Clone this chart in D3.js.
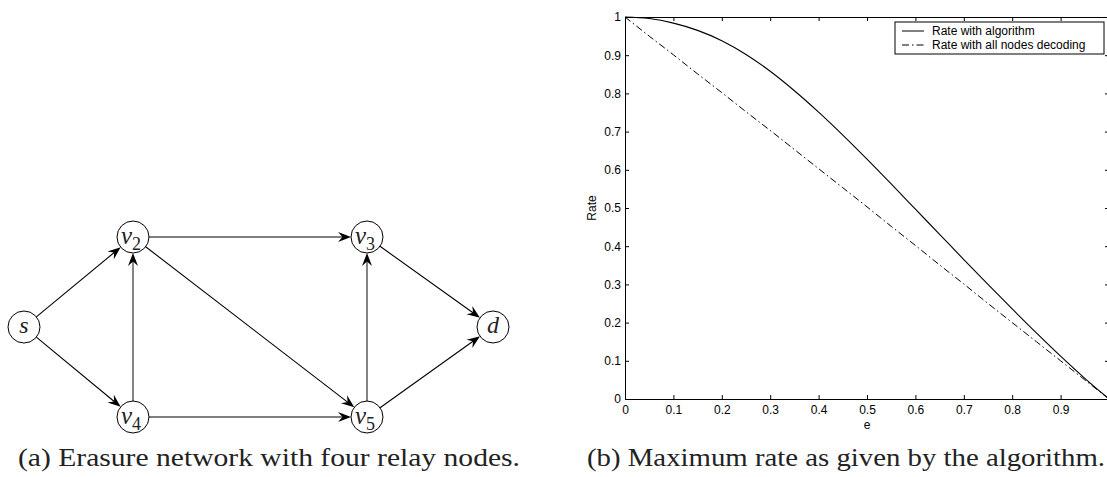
<!DOCTYPE html>
<html>
<head>
<meta charset="utf-8">
<script src="https://cdn.jsdelivr.net/npm/d3@7"></script>
<style>
body { margin: 0; background: #fff; }
svg { display: block; }
.tick text { font-family: "Liberation Sans", Arial, sans-serif; font-size: 12px; fill: #000; }
.axis path, .axis line { stroke: #000; }
</style>
</head>
<body>
<div id="fig"></div>
<script>
// network of panel (a)
var nodeNames = ["s", "v2", "v3", "v4", "v5", "d"];
var nodeCols = [0, 1, 2, 1, 2, 3];
var nodeRows = [1, 0, 0, 2, 2, 1];
var edgeList = [["s","v2"],["s","v4"],["v4","v2"],["v2","v3"],["v2","v5"],["v4","v5"],["v5","v3"],["v3","d"],["v5","d"]];

// curves of panel (b)
var eValues = [0,0.05,0.1,0.15,0.2,0.25,0.3,0.35,0.4,0.45,0.5,0.55,0.6,0.65,0.7,0.75,0.8,0.85,0.9,0.95,1];
var rateAlgo = [1.000,0.996,0.984,0.965,0.938,0.902,0.858,0.807,0.751,0.691,0.628,0.563,0.497,0.431,0.365,0.300,0.236,0.173,0.112,0.054,0.000];
var rateAll = [1.000,0.950,0.901,0.851,0.802,0.752,0.703,0.653,0.603,0.553,0.503,0.452,0.402,0.351,0.301,0.250,0.200,0.150,0.100,0.050,0.000];
var xTicks = [0,0.1,0.2,0.3,0.4,0.5,0.6,0.7,0.8,0.9,1];
var yTicks = [0,0.1,0.2,0.3,0.4,0.5,0.6,0.7,0.8,0.9,1];
var seriesNames = ["Rate with algorithm", "Rate with all nodes decoding"];

var svg = d3.select("#fig").append("svg")
    .attr("width", 1107)
    .attr("height", 477);

// ---------- panel (a) ----------
var colX = d3.scaleOrdinal().domain([0,1,2,3]).range([24, 133, 367, 493]);
var rowY = d3.scalePoint().domain([0,1,2]).range([237, 417]);
var r = 16;

var nodes = {};
nodeNames.forEach(function(n, i) {
  nodes[n] = {name: n, x: colX(nodeCols[i]), y: rowY(nodeRows[i])};
});

var net = svg.append("g");

edgeList.forEach(function(e) {
  var a = nodes[e[0]], b = nodes[e[1]];
  var dx = b.x - a.x, dy = b.y - a.y, len = Math.sqrt(dx*dx + dy*dy);
  var ux = dx / len, uy = dy / len;
  var x1 = a.x + ux * r, y1 = a.y + uy * r;
  var x2 = b.x - ux * r, y2 = b.y - uy * r;
  var vertical = Math.abs(dx) < 1;
  var col = vertical ? "#666" : "#000";
  net.append("line")
    .attr("x1", x1).attr("y1", y1)
    .attr("x2", x2 - ux * 6).attr("y2", y2 - uy * 6)
    .attr("stroke", col)
    .attr("stroke-width", vertical ? 1.6 : 1.1);
  // stealth arrow head
  var L = 13, W = 5, back = 8.5;
  var px = -uy, py = ux;
  var pts = [
    [x2, y2],
    [x2 - ux*L + px*W, y2 - uy*L + py*W],
    [x2 - ux*back, y2 - uy*back],
    [x2 - ux*L - px*W, y2 - uy*L - py*W]
  ];
  net.append("path")
    .attr("d", "M" + pts.map(function(p){return p.join(",");}).join("L") + "Z")
    .attr("fill", "#000");
});

var ng = net.selectAll("g.node")
  .data(nodeNames.map(function(n){return nodes[n];}))
  .enter().append("g").attr("class", "node");

ng.append("circle")
  .attr("cx", function(d){return d.x;})
  .attr("cy", function(d){return d.y;})
  .attr("r", r)
  .attr("fill", "#fff")
  .attr("stroke", "#000")
  .attr("stroke-width", 1);

ng.each(function(d) {
  var t = d3.select(this).append("text")
    .attr("font-family", "'Liberation Serif', 'Times New Roman', serif")
    .attr("fill", "#222");
  if (d.name.length > 1) {
    t.attr("x", d.x - 12).attr("y", d.y + 7);
    t.append("tspan").attr("font-style", "italic").attr("font-size", 25).text(d.name[0]);
    t.append("tspan").attr("font-size", 18).attr("dy", 6).text(d.name.slice(1));
  } else {
    t.attr("x", d.x).attr("y", d.y + 6)
      .attr("text-anchor", "middle")
      .attr("font-style", "italic")
      .attr("font-size", 24)
      .text(d.name);
  }
});

// ---------- panel (b) ----------
var x = d3.scaleLinear().domain([0, 1]).range([625, 1109]);
var y = d3.scaleLinear().domain([0, 1]).range([399, 17]);
var fmt = d3.format("~g");
// the label at e = 1 falls outside the page, as in the original
var xFmt = function(d) { return x(d) > 1100 ? "" : fmt(d); };

svg.append("g").attr("class", "axis")
  .attr("transform", "translate(0,399)")
  .call(d3.axisBottom(x).tickValues(xTicks).tickFormat(xFmt).tickSizeInner(-4).tickSizeOuter(0).tickPadding(6));
svg.append("g").attr("class", "axis")
  .attr("transform", "translate(625,0)")
  .call(d3.axisLeft(y).tickValues(yTicks).tickFormat(fmt).tickSizeInner(-4).tickSizeOuter(0).tickPadding(4));
svg.append("g").attr("class", "axis")
  .attr("transform", "translate(0,17)")
  .call(d3.axisTop(x).tickValues(xTicks).tickFormat("").tickSizeInner(-4).tickSizeOuter(0));
svg.append("g").attr("class", "axis")
  .attr("transform", "translate(1109,0)")
  .call(d3.axisRight(y).tickValues(yTicks).tickFormat("").tickSizeInner(-4).tickSizeOuter(0));

var line = d3.line()
  .x(function(d){return x(d[0]);})
  .y(function(d){return y(d[1]);})
  .curve(d3.curveMonotoneX);

svg.append("path")
  .datum(d3.zip(eValues, rateAlgo))
  .attr("d", line)
  .attr("fill", "none")
  .attr("stroke", "#000")
  .attr("stroke-width", 1.1);

svg.append("path")
  .datum(d3.zip(eValues, rateAll))
  .attr("d", line)
  .attr("fill", "none")
  .attr("stroke", "#000")
  .attr("stroke-width", 1)
  .attr("stroke-dasharray", "7,3,1.5,3");

// axis titles
svg.append("text")
  .attr("x", x(0.5)).attr("y", 429)
  .attr("text-anchor", "middle")
  .attr("font-family", "'Liberation Sans', Arial, sans-serif")
  .attr("font-size", 12)
  .text("e");
svg.append("text")
  .attr("transform", "translate(596," + y(0.5) + ") rotate(-90)")
  .attr("text-anchor", "middle")
  .attr("font-family", "'Liberation Sans', Arial, sans-serif")
  .attr("font-size", 12)
  .text("Rate");

// legend
var leg = svg.append("g");
leg.append("rect")
  .attr("x", 895).attr("y", 22).attr("width", 209).attr("height", 32)
  .attr("fill", "#fff").attr("stroke", "#000").attr("stroke-width", 1);
seriesNames.forEach(function(name, i) {
  var ly = 31 + i * 14;
  leg.append("line")
    .attr("x1", 902).attr("x2", 924).attr("y1", ly).attr("y2", ly)
    .attr("stroke", "#000").attr("stroke-width", 1)
    .attr("stroke-dasharray", i === 0 ? null : "7,3,1.5,3");
  leg.append("text")
    .attr("x", 932).attr("y", ly + 4)
    .attr("font-family", "'Liberation Sans', Arial, sans-serif")
    .attr("font-size", 12)
    .text(name);
});

// captions
var captions = [
  {t: "(a) Erasure network with four relay nodes.", x: 18, w: 502},
  {t: "(b) Maximum rate as given by the algorithm.", x: 587, w: 518}
];
captions.forEach(function(c) {
  svg.append("text")
    .attr("x", c.x).attr("y", 466)
    .attr("font-family", "'Liberation Serif', 'Times New Roman', serif")
    .attr("font-size", 25)
    .attr("fill", "#222")
    .attr("textLength", c.w)
    .attr("lengthAdjust", "spacingAndGlyphs")
    .text(c.t);
});
</script>
</body>
</html>
